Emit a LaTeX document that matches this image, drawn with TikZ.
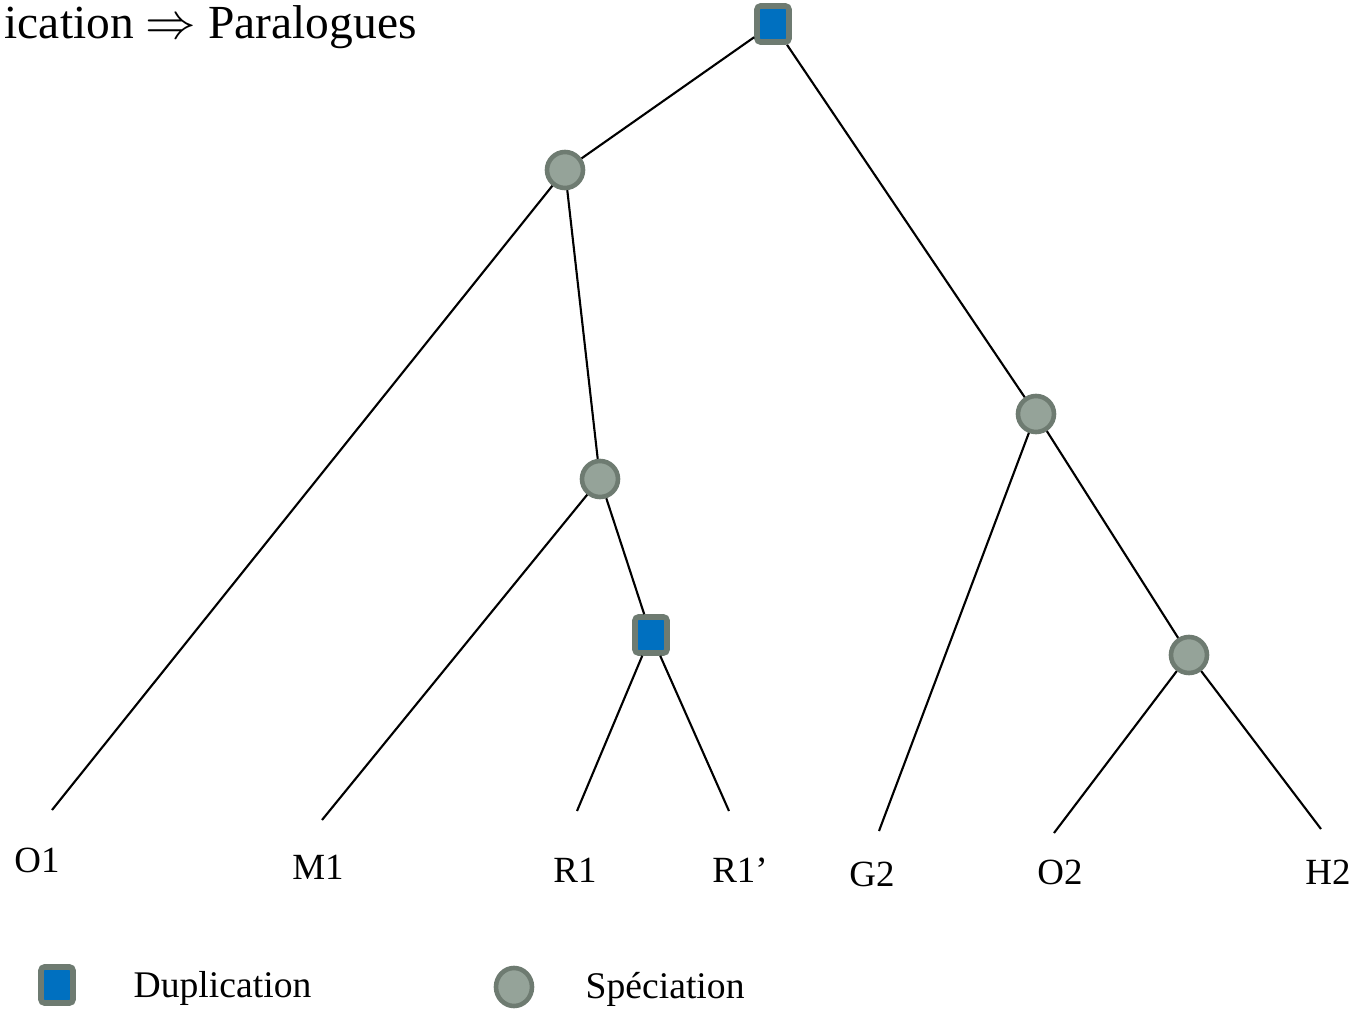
\documentclass[tikz,border=0pt]{standalone}
\usepackage{fontspec}
\setmainfont{Liberation Serif}
\usetikzlibrary{positioning,shapes.geometric}
\definecolor{dupblue}{HTML}{0070C0}
\definecolor{nodegray}{HTML}{6E7B71}
\definecolor{specfill}{HTML}{95A399}

\begin{document}
\begin{tikzpicture}[x=0.01cm,y=-0.01cm,
        dup/.style={draw=nodegray,fill=dupblue,line width=1.6pt,rounded corners=1pt,minimum width=0.32cm,minimum height=0.36cm,inner sep=0pt},
        spec/.style={circle,draw=nodegray,fill=specfill,line width=1.3pt,minimum size=0.36cm,inner sep=0pt},
        leaf/.style={font=\fontsize{10.5}{12}\selectfont,inner sep=0pt},
        branch/.style={line width=0.6pt}]
            \useasboundingbox (0,0) rectangle (1356,1012);

            \node[anchor=base west,inner sep=0pt,font=\fontsize{13.5}{16}\selectfont] (title) at (4,38) {ication $\Rightarrow$ Paralogues};

            \node[dup]  (root) at (773,24) {};
            \node[spec] (sa)   at (565,170) {};
            \node[spec] (sb)   at (600,479) {};
            \node[dup]  (db)   at (651,635) {};
            \node[spec] (sc)   at (1036,414) {};
            \node[spec] (sd)   at (1189,655) {};

            \coordinate (o1) at (52,810);
            \coordinate (m1) at (322,820);
            \coordinate (r1) at (577,811);
            \coordinate (r1p) at (729,811);
            \coordinate (g2) at (879,831);
            \coordinate (o2) at (1054,833);
            \coordinate (h2) at (1321,829);

            \node[leaf] (lo1)  at (37,860)   {O1};
            \node[leaf] (lm1)  at (318,867)  {M1};
            \node[leaf] (lr1)  at (575,870)  {R1};
            \node[leaf] (lr1p) at (740,870)  {R1’};
            \node[leaf] (lg2)  at (872,874)  {G2};
            \node[leaf] (lo2)  at (1060,872) {O2};
            \node[leaf] (lh2)  at (1328,872) {H2};

            \begin{scope}[branch]
                \draw (root) -- (sa);
                \draw (root) -- (sc);
                \draw (sa) -- (o1);
                \draw (sa) -- (sb);
                \draw (sb) -- (m1);
                \draw (sb) -- (db);
                \draw (db) -- (r1);
                \draw (db) -- (r1p);
                \draw (sc) -- (g2);
                \draw (sc) -- (sd);
                \draw (sd) -- (o2);
                \draw (sd) -- (h2);
            \end{scope}

            % legend
            \node[dup] (kdup) at (57,985) {};
            \node[leaf,anchor=west,font=\fontsize{10.7}{12}\selectfont] (tdup) at (133,988) {Duplication};
            \node[spec,ellipse,minimum width=0.36cm,minimum height=0.38cm] (kspec) at (514,987) {};
            \node[leaf,anchor=west,font=\fontsize{10.7}{12}\selectfont] (tspec) at (585,989) {Spéciation};
\end{tikzpicture}
\end{document}
